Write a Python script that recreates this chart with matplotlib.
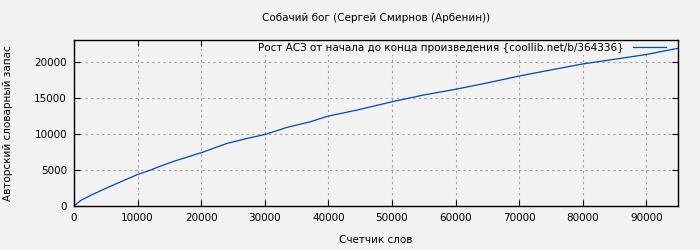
import matplotlib
matplotlib.use("Agg")
import matplotlib.pyplot as plt

# word counter vs. vocabulary size
words = [0, 1100, 2670, 5290, 7910, 10000, 12100, 13150, 15770, 20120,
         24060, 27200, 30080, 33490, 37150, 40000, 44500, 50000, 54970,
         57600, 60000, 65460, 70000, 75000, 80000, 85000, 90090, 95000]
vocab = [0, 790, 1490, 2560, 3570, 4360, 5000, 5380, 6210, 7420,
         8670, 9360, 9920, 10890, 11670, 12460, 13290, 14440, 15375,
         15790, 16170, 17140, 18010, 18850, 19680, 20330, 21000, 21860]

xticks = list(range(0, 95000, 10000))
yticks = list(range(0, 20001, 5000))

title = "Собачий бог (Сергей Смирнов (Арбенин))"
legend_label = "Рост АСЗ от начала до конца произведения {coollib.net/b/364336}"

fig = plt.figure(figsize=(7, 2.5), dpi=100, facecolor="#f2f2f2")
ax = fig.add_axes([0.1057, 0.176, 0.863, 0.664], facecolor="#f2f2f2")
ax.set_axisbelow(True)

ax.plot(words, vocab, color="#0047b3", lw=0.9, label=legend_label, zorder=3)

ax.set_xlim(0, 95000)
ax.set_ylim(0, 23000)
ax.set_xticks(xticks)
ax.set_yticks(yticks)
ax.tick_params(direction="in", labelsize=7.5, length=4, top=True, right=True,
               pad=5)
ax.grid(True, color="#a0a0a0", ls=(0, (2, 3)), lw=0.8)
for s in ax.spines.values():
    s.set_linewidth(1.0)
    s.set_zorder(4)

ax.set_xlabel("Счетчик слов", fontsize=7.5, labelpad=9)
ax.set_ylabel("Авторский словарный запас", fontsize=7.5, labelpad=15)
ax.set_title(title, fontsize=7.5, pad=14)

# legend box hides the grid behind it, but not the curve or the frame
leg = ax.legend(loc="upper right", bbox_to_anchor=(0.985, 1.0),
                frameon=True, facecolor="#f2f2f2", edgecolor="none",
                framealpha=1, fancybox=False, markerfirst=False,
                fontsize=7.5, handlelength=3.2, borderaxespad=0.1,
                handletextpad=0.8, borderpad=0.2)
leg.set_zorder(2)

fig.savefig("out.png", dpi=100, facecolor=fig.get_facecolor())
